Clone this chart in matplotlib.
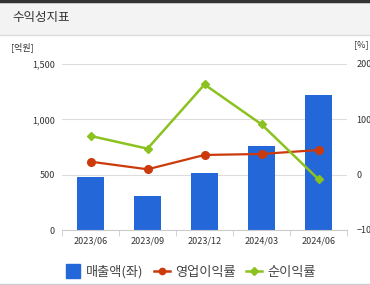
import numpy as np
import matplotlib.pyplot as plt
from matplotlib.patches import Rectangle
from matplotlib.lines import Line2D

plt.rcParams['font.family'] = ['Noto Sans CJK KR', 'DejaVu Sans']

# data
periods = ['2023/06', '2023/09', '2023/12', '2024/03', '2024/06']
sales = [482, 307, 512, 759, 1220]            # 매출액 (억원, left axis)
op_margin = [23.5, 9.7, 35.6, 37.4, 44.6]     # 영업이익률 (%)
net_margin = [70, 47, 163, 91, -8.3]          # 순이익률 (%)

blue = '#2467d8'
red = '#cc3a0c'
green = '#8bc220'
tick_color = '#333333'

fig = plt.figure(figsize=(3.7, 2.85), dpi=100)

# header band
fig.patches.append(Rectangle((0, 1 - 35 / 285), 1, 35 / 285, transform=fig.transFigure,
                             facecolor='#f3f3f3', edgecolor='none', zorder=0))
fig.lines.append(Line2D([0, 1], [1 - 1 / 285, 1 - 1 / 285], transform=fig.transFigure,
                        color='#333333', lw=2.5))
fig.lines.append(Line2D([0, 1], [1 - 35 / 285, 1 - 35 / 285], transform=fig.transFigure,
                        color='#dddddd', lw=1))
fig.lines.append(Line2D([0, 1], [1 / 285, 1 / 285], transform=fig.transFigure,
                        color='#cccccc', lw=1))
fig.text(12 / 370, 1 - 18 / 285, '수익성지표', fontsize=9, color='#333333', va='center', ha='left')

# axes: x 62..347 px, y 64..230 px
ax = fig.add_axes([62 / 370, 1 - 230 / 285, 285 / 370, 166 / 285])
x = np.arange(len(periods))
ax.bar(x, sales, width=0.48, color=blue, zorder=2)
ax.set_xlim(-0.5, 4.5)
ax.set_ylim(0, 1500)
ax.set_yticks([0, 500, 1000, 1500])
ax.set_yticklabels(['0', '500', '1,000', '1,500'])
ax.set_xticks(x)
ax.set_xticklabels(periods)
ax.grid(axis='y', color='#dddddd', lw=0.8, zorder=0)
for s in ['top', 'right', 'left']:
    ax.spines[s].set_visible(False)
ax.spines['bottom'].set_color('#cccccc')
ax.tick_params(axis='y', length=0, labelsize=6.5, labelcolor=tick_color, pad=5)
ax.tick_params(axis='x', length=0, labelsize=6.5, labelcolor=tick_color, pad=5)
# minor ticks between categories on the x axis
ax.set_xticks(np.arange(-0.5, 5, 1), minor=True)
ax.tick_params(axis='x', which='minor', length=4, color='#cccccc')

ax2 = ax.twinx()
ax2.set_ylim(-100, 200)
ax2.set_yticks([-100, 0, 100, 200])
for s in ['top', 'right', 'left', 'bottom']:
    ax2.spines[s].set_visible(False)
ax2.tick_params(axis='y', length=0, labelsize=6.5, labelcolor=tick_color, pad=7)
ax2.plot(x, op_margin, color=red, lw=1.6, marker='o', ms=5.5, zorder=3)
ax2.plot(x, net_margin, color=green, lw=1.8, marker='D', ms=4, zorder=3)

fig.text(11 / 370, 1 - 47 / 285, '[억원]', fontsize=6.5, color=tick_color, va='center', ha='left')
fig.text(354 / 370, 1 - 45 / 285, '[%]', fontsize=6.5, color=tick_color, va='center', ha='left')

# legend
handles = [
    Line2D([], [], color=blue, marker='s', ms=10, lw=0),
    Line2D([], [], color=red, marker='o', ms=4.5, lw=1.8),
    Line2D([], [], color=green, marker='D', ms=4, lw=1.8),
]
fig.legend(handles, ['매출액(좌)', '영업이익률', '순이익률'], loc='center',
           bbox_to_anchor=(0.515, 1 - 272 / 285), ncol=3, frameon=False, fontsize=9.5,
           handlelength=1.2, handletextpad=0.4, columnspacing=0.8, labelcolor='#444444')

fig.savefig('out.png', dpi=100)
